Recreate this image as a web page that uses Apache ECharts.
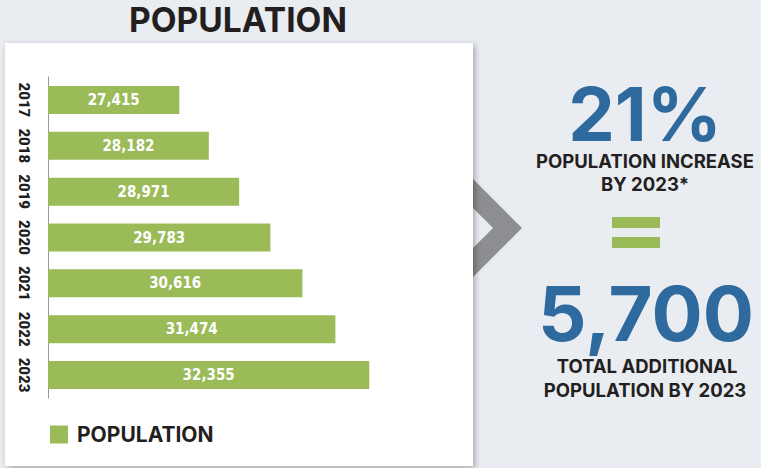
<!DOCTYPE html>
<html>
<head>
<meta charset="utf-8">
<script src="https://cdn.jsdelivr.net/npm/echarts@6/dist/echarts.min.js"></script>
<style>
  html, body { margin: 0; padding: 0; background: #e9ecf1; }
  #chart { width: 761px; height: 468px; }
</style>
</head>
<body>
<div id="chart"></div>
<script>
// data
const years = ['2017', '2018', '2019', '2020', '2021', '2022', '2023']
const population = [27415, 28182, 28971, 29783, 30616, 31474, 32355]
const seriesName = 'POPULATION'
const statPercent = '21%'
const statPercentText = ['POPULATION INCREASE', 'BY 2023*']
const statTotal = '5,700'
const statTotalText = ['TOTAL ADDITIONAL', 'POPULATION BY 2023']

const GREEN = '#9bbb59'
const BLUE = '#2e6a9e'
const DARK = '#231f20'
const HEAD = 'Inter, "Open Sans", sans-serif'
const NARROW = '"DejaVu Sans Condensed", sans-serif'

const chart = echarts.init(document.getElementById('chart'), null, { renderer: 'svg' })

const txt = (text, x, y, size, color, lh) => ({
  type: 'text', x, y, z: 10,
  style: { text, fill: color, font: `bold ${size}px ${HEAD}`, lineHeight: lh || size,
    textAlign: 'center', textVerticalAlign: 'middle' }
})

chart.setOption({
  backgroundColor: '#e9ecf1',
  animation: false,
  graphic: [
    // chevron sits behind the card
    { type: 'polygon', z: -2, shape: { points: [[470, 176], [522, 228], [470, 280], [470, 251], [493, 228], [470, 205]] }, style: { fill: '#8d8e91' } },
    { type: 'rect', z: -1, shape: { x: 5, y: 43, width: 468, height: 423 },
      style: { fill: '#fff', shadowBlur: 6, shadowOffsetX: 2, shadowOffsetY: 2, shadowColor: 'rgba(0,0,0,0.3)' } },
    txt('POPULATION', 238, 20, 33.5, DARK),
    txt(statPercent, 645, 114, 74, BLUE, 56),
    txt(statPercentText[0], 645, 161, 18.5, DARK, 14),
    txt(statPercentText[1], 645, 184, 18.5, DARK, 14),
    { type: 'rect', z: 10, shape: { x: 612, y: 217, width: 48, height: 11 }, style: { fill: GREEN } },
    { type: 'rect', z: 10, shape: { x: 612, y: 237, width: 48, height: 11 }, style: { fill: GREEN } },
    txt(statTotal, 646, 313, 76, BLUE, 56),
    txt(statTotalText[0], 647, 366, 18.5, DARK, 14),
    txt(statTotalText[1], 645, 390, 18.5, DARK, 14)
  ],
  legend: {
    data: [seriesName],
    left: 50, top: 424, padding: 0,
    icon: 'rect', itemWidth: 18, itemHeight: 18,
    textStyle: { color: DARK, fontFamily: HEAD, fontWeight: 'bold', fontSize: 21, padding: [0, 0, 0, 4] }
  },
  grid: { left: 48, top: 77, width: 423, height: 321, containLabel: false },
  xAxis: { type: 'value', min: 24000, max: 35000, show: false },
  yAxis: {
    type: 'category',
    data: years,
    inverse: true,
    axisLine: { show: true, lineStyle: { color: '#9a9a9a', width: 1 } },
    axisTick: { show: false },
    axisLabel: { interval: 0, rotate: -90, margin: 17, color: DARK, fontFamily: 'Roboto, sans-serif', fontWeight: 900, fontSize: 15 }
  },
  series: [{
    name: seriesName,
    type: 'bar',
    data: population,
    barWidth: 28,
    itemStyle: { color: GREEN },
    label: {
      show: true, position: 'inside', color: '#fff',
      fontFamily: NARROW, fontWeight: 'bold', fontSize: 15,
      formatter: (p) => p.value.toLocaleString('en-US')
    }
  }]
})
</script>
</body>
</html>
